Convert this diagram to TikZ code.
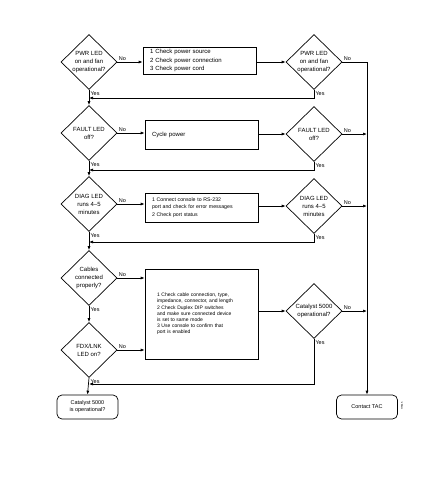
\documentclass[tikz,border=0pt]{standalone}
\usepackage{fontspec}
\setmainfont{Liberation Sans}
\usetikzlibrary{shapes.geometric,arrows.meta,calc}
\begin{document}
\begin{tikzpicture}[x=1pt,y=-1pt, line width=0.7pt,
 dec/.style={diamond, draw, minimum width=56pt, minimum height=55pt, inner sep=0pt, align=center, font=\fontsize{6}{8}\selectfont},
 act/.style={rectangle, draw, align=left, inner ysep=0pt, inner xsep=7pt, text width=99pt},
 term/.style={rectangle, rounded corners=5pt, draw, minimum width=61pt, minimum height=24pt, inner sep=0pt, align=center, font=\fontsize{5.5}{7}\selectfont},
 arr/.style={-{Latex[length=4pt,width=3pt]}},
 lbl/.style={font=\fontsize{5.5}{6}\selectfont, inner sep=1.2pt}]
\useasboundingbox (0,0) rectangle (446,493);

% left column decisions
\node[dec] (d1) at (89,62) {PWR LED\\on and fan\\operational?};
\node[dec] (d2) at (89,133) {FAULT LED\\off?};
\node[dec] (d3) at (89,204) {DIAG LED\\runs 4--5\\minutes};
\node[dec] (d4) at (89,278) {Cables\\connected\\properly?};
\node[dec] (d5) at (89,350) {FDX/LNK\\LED on?};
\node[term] (fin) at (87.5,407) {Catalyst 5000\\is operational?};

% action boxes
\node[act, minimum height=27pt, font=\fontsize{6}{8.5}\selectfont] (b1) at (199.5,60.5) {1\,\,Check power source\\2\,\,Check power connection\\3\,\,Check power cord};
\node[act, minimum height=29pt, font=\fontsize{6}{8}\selectfont] (b2) at (201.5,134.5) {Cycle power};
\node[act, minimum height=29pt, font=\fontsize{5.2}{7.5}\selectfont] (b3) at (201.5,207.5) {1\,\,Connect console to RS-232\\port and check for error messages\\2\,\,Check port status};
\node[act, minimum height=90pt, inner xsep=12pt, text width=89pt, font=\fontsize{5}{6.2}\selectfont] (b4) at (201.5,314) {1\,\,Check cable connection, type,\\impedance, connector, and length\\2\,\,Check Duplex DIP switches\\and make sure connected device\\is set to same mode\\3\,\,Use console to confirm that\\port is enabled\\[6pt]};

% right column decisions
\node[dec] (r1) at (314,62) {PWR LED\\on and fan\\operational?};
\node[dec] (r2) at (314,134) {FAULT LED\\off?};
\node[dec] (r3) at (314,206) {DIAG LED\\runs 4--5\\minutes};
\node[dec] (r4) at (314,311) {Catalyst 5000\\operational?};
\node[term] (tac) at (367,407) {Contact TAC};

\node[rotate=90, font=\fontsize{2.5}{3}\selectfont, inner sep=0pt] (fig) at (402,406) {H5815};

% junctions on left spine
\coordinate (j1) at (89,98);
\coordinate (j2) at (89,170);
\coordinate (j3) at (89,242);
\coordinate (j4) at (89,384);

% row 1
\draw[arr] (d1.east) -- node[lbl, at start, anchor=south west]{No} (d1.east -| b1.west);
\draw[arr] (b1.east |- r1.west) -- (r1.west);
\draw (r1.east) -- node[lbl, at start, anchor=south west]{No} (r1.east -| tac.north);
\draw[arr] (r1.east -| tac.north) -- (tac.north);
\draw[arr] (r1.south) |- node[lbl, at start, anchor=north west]{Yes} (j1);
\draw[arr] (d1.south) -- node[lbl, at start, anchor=north west]{Yes} (d2.north);

% row 2
\draw[arr] (d2.east) -- node[lbl, at start, anchor=south west]{No} (d2.east -| b2.west);
\draw[arr] (b2.east |- r2.west) -- (r2.west);
\draw[arr] (r2.east) -- node[lbl, at start, anchor=south west]{No} (r2.east -| tac.north);
\draw[arr] (r2.south) |- node[lbl, at start, anchor=north west]{Yes} (j2);
\draw[arr] (d2.south) -- node[lbl, at start, anchor=north west]{Yes} (d3.north);

% row 3
\draw[arr] (d3.east) -- node[lbl, at start, anchor=south west]{No} (d3.east -| b3.west);
\draw[arr] (b3.east |- r3.west) -- (r3.west);
\draw[arr] (r3.east) -- node[lbl, at start, anchor=south west]{No} (r3.east -| tac.north);
\draw[arr] (r3.south) |- node[lbl, at start, anchor=north west]{Yes} (j3);
\draw[arr] (d3.south) -- node[lbl, at start, anchor=north west]{Yes} (d4.north);

% rows 4-5
\draw[arr] (d4.east) -- node[lbl, at start, anchor=south west]{No} (d4.east -| b4.west);
\draw[arr] (d4.south) -- node[lbl, at start, anchor=north west]{Yes} (d5.north);
\draw[arr] (d5.east) -- node[lbl, at start, anchor=south west]{No} (d5.east -| b4.west);
\draw[arr] (b4.east |- r4.west) -- (r4.west);
\draw[arr] (r4.east) -- node[lbl, at start, anchor=south west]{No} (r4.east -| tac.north);
\draw[arr] (r4.south) |- node[lbl, at start, anchor=north west]{Yes} (j4);
\draw[arr] (d5.south) -- node[lbl, at start, anchor=north west]{Yes} (fin.north);
\end{tikzpicture}
\end{document}
